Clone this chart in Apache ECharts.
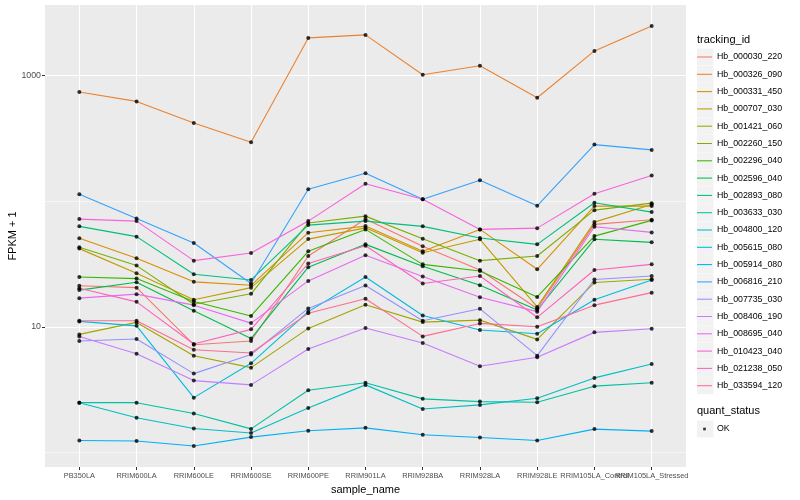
<!DOCTYPE html>
<html><head><meta charset="utf-8">
<script src="https://cdn.jsdelivr.net/npm/echarts@6/dist/echarts.min.js"></script>
<style>html,body{margin:0;padding:0;background:#fff}#c{width:800px;height:500px}</style>
</head><body><div id="c"></div>
<script>
const categories = ['PB350LA','RRIM600LA','RRIM600LE','RRIM600SE','RRIM600PE','RRIM901LA','RRIM928BA','RRIM928LA','RRIM928LE','RRIM105LA_Control','RRIM105LA_Stressed'];
const trackingIds = ['Hb_000030_220','Hb_000326_090','Hb_000331_450','Hb_000707_030','Hb_001421_060','Hb_002260_150','Hb_002296_040','Hb_002596_040','Hb_002893_080','Hb_003633_030','Hb_004800_120','Hb_005615_080','Hb_005914_080','Hb_006816_210','Hb_007735_030','Hb_008406_190','Hb_008695_040','Hb_010423_040','Hb_021238_050','Hb_033594_120'];

const fpkm_000030_220 = [21.2, 20.5, 7.2, 7.7, 36.6, 72.2, 43.7, 28.3, 14.0, 65.3, 71.2];
const fpkm_000326_090 = [738, 622, 419, 294, 1992, 2104, 1013, 1194, 665, 1570, 2478];
const fpkm_000331_450 = [50.6, 35.1, 22.8, 21.4, 56.1, 63.3, 39.9, 59.6, 28.7, 91.3, 91.3];
const fpkm_000707_030 = [41.9, 26.7, 16.4, 20.5, 49.9, 61.3, 38.9, 49.7, 14.4, 68.1, 94.2];
const fpkm_001421_060 = [8.70, 10.84, 5.89, 4.73, 9.71, 14.96, 10.90, 11.30, 7.94, 22.5, 23.9];
const fpkm_002260_150 = [42.9, 30.7, 15.1, 18.3, 67.1, 76.0, 50.3, 33.6, 36.6, 84.8, 96.4];
const fpkm_002296_040 = [24.9, 24.2, 15.9, 12.2, 39.9, 59.6, 31.4, 27.8, 17.3, 52.7, 70.3];
const fpkm_002596_040 = [19.6, 22.6, 13.4, 8.06, 29.8, 45.3, 30.3, 21.4, 13.6, 49.7, 47.0];
const fpkm_002893_080 = [63.0, 52.2, 26.2, 23.6, 64.5, 69.4, 63.0, 50.9, 45.3, 97.1, 81.8];
const fpkm_003633_030 = [2.49, 2.49, 2.04, 1.54, 3.13, 3.59, 2.67, 2.54, 2.51, 3.37, 3.59];
const fpkm_004800_120 = [2.49, 1.89, 1.55, 1.43, 2.26, 3.45, 2.22, 2.39, 2.70, 3.92, 5.06];
const fpkm_005615_080 = [11.04, 10.18, 2.73, 5.12, 13.2, 24.9, 12.3, 9.42, 8.80, 16.4, 23.6];
const fpkm_005914_080 = [1.245, 1.232, 1.124, 1.325, 1.487, 1.570, 1.382, 1.315, 1.245, 1.534, 1.479];
const fpkm_006816_210 = [113.7, 72.9, 46.4, 22.1, 124.5, 166.8, 103.7, 146.8, 91.9, 281.8, 255.8];
const fpkm_007735_030 = [7.70, 7.99, 4.24, 6.02, 14.0, 21.3, 11.16, 13.9, 5.89, 23.8, 25.4];
const fpkm_008406_190 = [8.36, 6.10, 3.73, 3.45, 6.65, 9.77, 7.42, 4.85, 5.72, 9.03, 9.64];
const fpkm_008695_040 = [16.9, 18.2, 14.87, 10.70, 23.2, 37.1, 25.1, 17.2, 13.2, 62.6, 56.4];
const fpkm_010423_040 = [72.0, 69.4, 33.6, 38.7, 69.4, 137.4, 103.7, 59.6, 61.0, 114.5, 160.0];
const fpkm_021238_050 = [20.3, 15.8, 7.29, 9.54, 31.9, 44.1, 22.1, 25.4, 11.9, 28.3, 31.4];
const fpkm_033594_120 = [11.16, 11.16, 6.57, 6.18, 12.8, 16.7, 8.39, 10.64, 10.0, 14.87, 18.7];

const seriesValues = [fpkm_000030_220, fpkm_000326_090, fpkm_000331_450, fpkm_000707_030, fpkm_001421_060,
  fpkm_002260_150, fpkm_002296_040, fpkm_002596_040, fpkm_002893_080, fpkm_003633_030,
  fpkm_004800_120, fpkm_005615_080, fpkm_005914_080, fpkm_006816_210, fpkm_007735_030,
  fpkm_008406_190, fpkm_008695_040, fpkm_010423_040, fpkm_021238_050, fpkm_033594_120];

const quantStatus = ['OK'];
const yMajorTicks = [10, 1000];
const yMinorTicks = [1, 100];
const xTicks = categories.map((c, i) => i);
const xTicksEven = xTicks.filter(i => i % 2 === 0);
const xTicksOdd = xTicks.filter(i => i % 2 === 1);

const palette = ['#F8766D','#EA8331','#D89000','#C09B00','#A3A500','#7CAE00','#39B600','#00BB4E','#00BF7D','#00C1A3','#00BFC4','#00BAE0','#00B0F6','#35A2FF','#9590FF','#C77CFF','#E76BF3','#FA62DB','#FF62BC','#FF6C91'];

const FONT = '"Liberation Sans", Arial, Helvetica, sans-serif';
const chart = echarts.init(document.getElementById('c'), null, {renderer: 'canvas'});

const lineSeries = trackingIds.map((id, k) => ({
  name: id, type: 'line', xAxisIndex: 0, yAxisIndex: 0,
  data: seriesValues[k].map((v, i) => [i, v]),
  showSymbol: false, symbol: 'none',
  color: palette[k],
  lineStyle: {width: 1.1, color: palette[k]},
  emphasis: {disabled: true}, silent: true, z: 2, animation: false
}));

// minor horizontal gridlines (ggplot panel.grid.minor) via markLine on the log axis
lineSeries[0].markLine = {
  silent: true, symbol: ['none', 'none'], label: {show: false}, z: 1,
  lineStyle: {color: '#FFFFFF', width: 0.55, type: 'solid'},
  emphasis: {disabled: true},
  data: yMinorTicks.map(v => ({yAxis: v}))
};

const pointSeries = {
  name: quantStatus[0], type: 'scatter', xAxisIndex: 0, yAxisIndex: 0,
  data: [].concat(...seriesValues.map(vals => vals.map((v, i) => [i, v]))),
  symbol: 'circle', symbolSize: 4, itemStyle: {color: '#000'},
  silent: true, z: 3, animation: false
};

const keyTop = 48.5, keyStep = 17.3;
const graphics = [
  {type: 'text', left: 697, top: 34, style: {text: 'tracking_id', fontSize: 11, fill: '#000', fontFamily: FONT}},
  {type: 'text', left: 697, top: 405, style: {text: 'quant_status', fontSize: 11, fill: '#000', fontFamily: FONT}},
  {type: 'rect', shape: {x: 697, y: 420.5, width: 16.5, height: 17}, style: {fill: '#F2F2F2'}, z: 0}
].concat(trackingIds.map((id, i) => ({
  type: 'rect', shape: {x: 697, y: keyTop + i * keyStep, width: 16.5, height: 17}, style: {fill: '#F2F2F2'}, z: 0
})));

const xLabelStyle = {margin: 5, fontSize: 7.4, color: '#4D4D4D', fontFamily: FONT, hideOverlap: false,
  formatter: v => categories[Math.round(v)] || ''};

const option = {
  animation: false,
  backgroundColor: '#fff',
  textStyle: {fontFamily: FONT},
  grid: {left: 45, right: 114, top: 5, bottom: 33, show: true, backgroundColor: '#EBEBEB', borderWidth: 0,
    containLabel: false, outerBoundsMode: 'none'},
  xAxis: [{
    type: 'value', min: -0.6, max: 10.6, position: 'bottom',
    name: 'sample_name', nameLocation: 'middle', nameGap: 17, nameMoveOverlap: false,
    nameTextStyle: {fontSize: 11, color: '#000', fontFamily: FONT},
    axisLine: {show: false, onZero: false},
    axisTick: {show: true, length: 3, customValues: xTicks, lineStyle: {color: '#333333', width: 1}},
    axisLabel: Object.assign({show: true, customValues: xTicksEven}, xLabelStyle),
    splitLine: {show: true, lineStyle: {color: '#FFFFFF', width: 1.1}}
  }, {
    type: 'value', min: -0.6, max: 10.6, position: 'bottom', offset: 0,
    axisLine: {show: false, onZero: false},
    axisTick: {show: false, customValues: xTicksOdd},
    axisLabel: Object.assign({show: true, customValues: xTicksOdd}, xLabelStyle),
    splitLine: {show: false}
  }],
  yAxis: {
    type: 'log', logBase: 10, min: 0.766, max: 3640, position: 'left',
    name: 'FPKM + 1', nameLocation: 'middle', nameGap: 27, nameMoveOverlap: false,
    nameTextStyle: {fontSize: 11, color: '#000', fontFamily: FONT},
    axisLine: {show: false, onZero: false},
    axisTick: {show: true, length: 3, customValues: yMajorTicks, lineStyle: {color: '#333333', width: 1}},
    axisLabel: {show: true, customValues: yMajorTicks, margin: 4, fontSize: 8.8, color: '#4D4D4D', fontFamily: FONT,
      hideOverlap: false, formatter: v => String(Math.round(v))},
    splitLine: {show: true, lineStyle: {color: '#FFFFFF', width: 1.1}}
  },
  legend: [{
    orient: 'vertical', left: 697, top: keyTop, padding: 0, itemGap: keyStep - 17,
    itemWidth: 15, itemHeight: 17, z: 10, selectedMode: false,
    icon: 'path://M0,0M17,17M0,7.9L17,7.9L17,9.1L0,9.1Z',
    textStyle: {fontSize: 8.8, lineHeight: 17, height: 17, color: '#000', fontFamily: FONT},
    data: trackingIds
  }, {
    orient: 'vertical', left: 697, top: 420.5, padding: 0,
    itemWidth: 15, itemHeight: 17, z: 10, selectedMode: false,
    icon: 'path://M0,0M17,17M7,7L10,7L10,10L7,10Z',
    textStyle: {fontSize: 8.8, lineHeight: 17, height: 17, color: '#000', fontFamily: FONT},
    data: quantStatus
  }],
  graphic: graphics,
  series: lineSeries.concat([pointSeries])
};
chart.setOption(option);
</script>
</body></html>
